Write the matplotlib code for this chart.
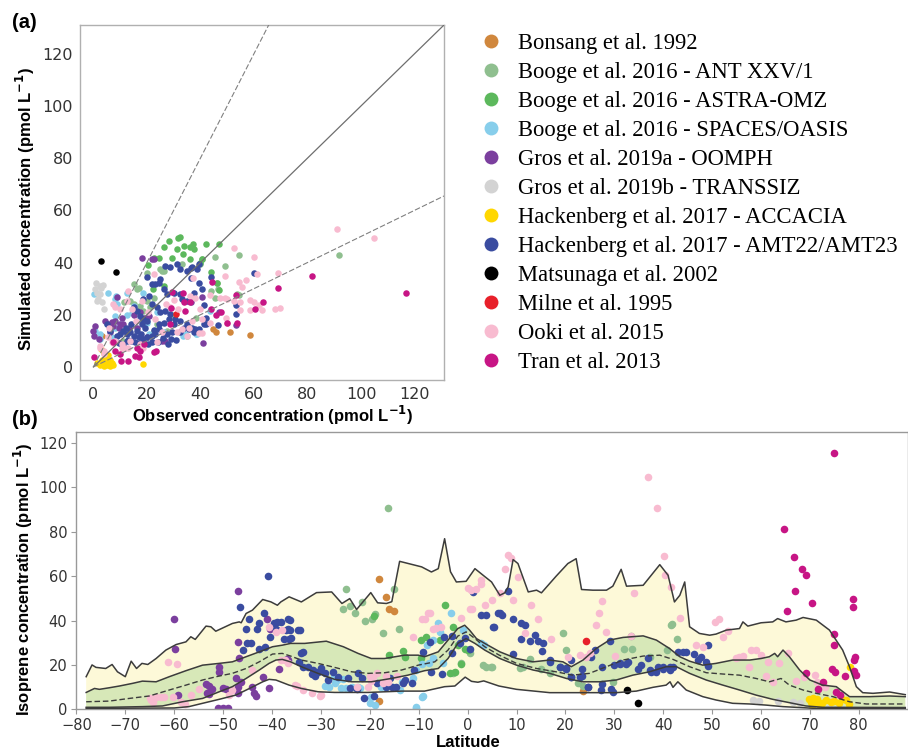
import matplotlib
matplotlib.use("Agg")
import matplotlib.pyplot as plt
from matplotlib.lines import Line2D
import numpy as np

# ---------------- legend / series ----------------
labels = ["Bonsang et al. 1992",
          "Booge et al. 2016 - ANT XXV/1",
          "Booge et al. 2016 - ASTRA-OMZ",
          "Booge et al. 2016 - SPACES/OASIS",
          "Gros et al. 2019a - OOMPH",
          "Gros et al. 2019b - TRANSSIZ",
          "Hackenberg et al. 2017 - ACCACIA",
          "Hackenberg et al. 2017 - AMT22/AMT23",
          "Matsunaga et al. 2002",
          "Milne et al. 1995",
          "Ooki et al. 2015",
          "Tran et al. 2013"]
colors = ["#d0873d", "#8fbf8f", "#5cb85c", "#87ceeb", "#7b3f9e", "#d3d3d3",
          "#ffd700", "#3a4ca0", "#000000", "#e8202a", "#f8bbd0", "#c71585"]

# ---------------- panel (a): observed vs simulated ----------------
bonsang_obs = [58.7, 50.9, 45.9, 44.7, 3.1, 7.5]
bonsang_sim = [12.2, 13.4, 13.5, 14.7, 11.9, 9.7]

ant_obs = [91.8, 54.3, 45.3, 49.1, 46.2, 46.6, 43.9, 45.6, 40.6, 39.9, 54.3, 38.4, 33.1, 25.0, 20.0,
           25.7, 16.9, 15.0, 13.7, 15.0, 20.0, 21.2, 18.7, 23.7, 22.5, 21.2, 27.5, 11.2, 11.3, 17.5,
           22.5, 16.3, 53.7, 26.2, 35.0, 30.0]
ant_sim = [42.7, 42.7, 42.1, 38.7, 32.0, 29.7, 29.1, 26.4, 41.5, 39.3, 27.7, 18.6, 39.4, 37.5, 35.9,
           36.8, 30.4, 31.7, 25.3, 24.0, 25.3, 22.8, 21.5, 16.4, 13.8, 11.3, 13.8, 10.0, 24.9, 23.4,
           26.6, 30.0, 27.9, 36.8, 12.0, 20.0]

astra_obs = [37.2, 42.2, 46.8, 37.7, 36.2, 28.1, 31.8, 32.5, 26.2, 24.4, 22.5, 31.2, 33.7, 36.2,
             40.6, 39.8, 29.4, 33.5, 22.3, 26.3, 46.3, 46.9, 20.5, 44.0]
astra_sim = [47.0, 47.0, 47.0, 45.1, 41.5, 48.3, 49.3, 49.6, 45.8, 41.9, 41.9, 45.1, 46.4, 45.8,
             41.5, 39.7, 41.9, 43.2, 30.0, 31.1, 32.3, 29.5, 39.2, 36.5]

spaces_obs = [0.3, 5.6, 8.5, 8.1, 12.5, 18.7, 8.8, 12.5, 14.4, 10.0, 8.1, 5.0, 0.6, 2.5, 6.9, 20.0,
              20.6, 23.7, 34.3, 26.2, 38.4, 43.4, 8.2, 15.3, 2.5, 38.8, 33.5, 17.0]
spaces_sim = [28.1, 28.5, 27.2, 26.0, 28.5, 28.5, 24.0, 20.0, 20.5, 16.4, 15.1, 16.4, 13.8, 12.6,
              11.3, 17.0, 12.6, 20.9, 12.6, 13.2, 12.5, 21.4, 19.6, 23.4, 10.6, 12.6, 11.7, 18.0]

oomph_obs = [18.1, 21.9, 22.8, 0.6, 0.0, 0.3, 4.4, 5.6, 6.9, 8.1, 7.5, 10.0, 15.0, 17.5, 10.6, 11.2,
             25.6, 26.9, 40.6, 40.9, 53.4, 36.4, 9.0, 13.2, 16.3, 6.3, 2.0, 18.8, 20.7, 20.0, 46.9, 9.4]
oomph_sim = [41.9, 41.3, 41.3, 15.7, 13.8, 11.9, 17.7, 16.4, 17.4, 17.7, 15.7, 16.4, 20.0, 20.9,
             18.9, 16.4, 10.0, 10.0, 26.9, 9.0, 15.9, 24.9, 26.8, 15.1, 15.1, 13.2, 10.6, 18.9, 19.6,
             11.3, 21.1, 15.1]

transsiz_obs = [1.0, 2.3, 0.6, 2.8, 1.3, 2.5, 1.9, 3.1, 4.0, 1.5, 3.5]
transsiz_sim = [32.3, 31.1, 29.8, 30.4, 28.5, 27.9, 26.0, 24.7, 22.1, 25.2, 31.5]

accacia_obs = [2.5, 3.8, 5.0, 6.3, 3.1, 4.4, 5.6, 6.3, 3.8, 6.9, 5.0, 2.8, 18.7, 4.0, 7.5, 1.5]
accacia_sim = [0.8, 0.4, 0.6, 0.4, 2.8, 3.4, 4.7, 2.8, 1.7, 1.7, 2.2, 6.8, 1.1, 5.3, 0.8, 1.5]

amt_obs = [20.0, 21.9, 24.4, 26.9, 28.7, 31.2, 32.5, 35.0, 36.8, 26.2, 30.0, 32.2, 33.1, 35.0, 37.5,
           18.7, 20.6, 21.9, 23.7, 25.0, 26.9, 28.7, 30.6, 32.5, 35.0, 36.8, 15.0, 16.2, 17.5, 18.7,
           20.0, 18.1, 19.4, 16.2, 13.7, 12.5, 10.0, 11.2, 8.8, 6.3, 5.0, 15.0, 16.9, 18.7, 20.0,
           21.9, 23.1, 24.4, 26.2, 28.1, 30.0, 32.5, 33.7, 35.6, 37.5, 27.5, 29.3, 23.1, 25.0, 27.5,
           12.5, 59.9, 43.9, 40.6, 39.3, 53.1, 53.4, 46.6, 42.2, 41.4, 42.2, 38.1, 39.3, 41.2, 36.4,
           38.9, 39.3, 36.4, 29.0, 31.0, 22.0, 14.0, 17.0, 9.5, 11.0, 13.0, 15.5, 19.0, 24.0, 26.0,
           28.0, 20.5, 17.8, 14.0, 12.0, 22.5, 24.5]
amt_sim = [34.3, 31.7, 32.3, 38.7, 38.1, 39.4, 37.5, 36.8, 38.4, 29.8, 28.5, 27.9, 26.0, 25.3, 28.5,
           26.0, 27.2, 24.0, 22.8, 20.9, 21.5, 20.2, 18.3, 17.7, 16.4, 15.1, 22.8, 21.5, 19.6, 18.3,
           17.7, 16.4, 15.1, 13.8, 13.2, 12.6, 12.6, 13.8, 11.9, 13.8, 16.4, 11.9, 11.3, 10.6, 11.3,
           11.9, 12.6, 16.4, 17.0, 18.3, 16.4, 13.2, 15.1, 14.5, 13.2, 12.6, 13.2, 31.7, 33.6, 27.9,
           10.0, 35.9, 34.6, 30.0, 32.3, 23.6, 20.1, 16.2, 18.9, 16.3, 16.3, 14.4, 14.7, 23.9, 38.0,
           37.4, 39.3, 34.2, 10.6, 10.4, 9.5, 9.8, 9.2, 9.0, 8.5, 10.5, 9.5, 9.0, 9.5, 11.0,
           8.8, 8.8, 12.5, 16.5, 15.0, 14.0, 14.5]

matsunaga_obs = [2.8, 8.5]
matsunaga_sim = [40.7, 36.4]

milne_obs = [31.0]
milne_sim = [20.2]

ooki_obs = [91.1, 104.9, 52.4, 59.9, 69.0, 61.2, 49.0, 54.3, 57.2, 55.6, 47.4, 49.0, 49.9, 52.4, 54.9,
            58.4, 59.9, 61.8, 63.0, 58.4, 54.7, 68.0, 69.7, 49.7, 49.9, 43.7, 40.6, 39.3, 37.4, 38.1,
            43.7, 13.1, 12.5, 10.0, 7.5, 5.6, 6.9, 8.1, 10.6, 11.9, 13.1, 2.5, 3.8, 17.5, 18.7, 23.7,
            28.7, 31.8, 36.2, 40.0, 40.6, 36.9, 35.6, 33.1, 31.3, 35.0, 25.6, 23.1, 22.5, 18.1, 14.4,
            8.2, 5.7, 7.5, 10.7, 13.8, 3.8, 2.5, 20.5, 16.0, 27.0, 30.0]
ooki_sim = [53.0, 49.3, 45.4, 42.2, 35.9, 35.7, 34.8, 32.7, 33.2, 30.7, 26.5, 26.5, 25.9, 25.3, 24.9,
            25.5, 24.9, 23.6, 21.8, 21.8, 21.8, 22.1, 22.7, 18.9, 17.0, 16.9, 13.1, 13.1, 34.2, 26.5,
            27.4, 29.2, 25.3, 22.1, 24.0, 11.3, 9.4, 10.0, 8.7, 7.4, 7.4, 7.4, 6.2, 8.7, 7.4, 9.4,
            22.8, 22.1, 27.2, 22.1, 18.3, 17.7, 15.1, 14.5, 13.2, 11.9, 13.2, 18.3, 35.5, 25.3, 22.1,
            22.8, 15.1, 9.3, 7.4, 9.9, 4.9, 8.1, 21.0, 17.5, 24.0, 25.5]

tran_obs = [116.7, 81.5, 68.9, 63.4, 60.5, 53.4, 47.8, 45.9, 49.9, 44.3, 53.7, 44.0, 33.5, 29.4, 34.0,
            29.0, 18.8, 16.3, 15.7, 12.8, 10.4, 22.5, 23.5, 17.5, 7.9, 0.2, 7.5, 10.0, 17.0, 28.7,
            34.3, 36.2]
tran_sim = [28.3, 34.8, 30.1, 24.9, 22.3, 27.6, 21.0, 20.0, 16.7, 32.7, 17.0, 22.1, 28.3, 28.8, 24.7,
            22.4, 8.7, 7.4, 4.2, 2.1, 2.3, 5.8, 6.2, 6.2, 6.2, 3.7, 9.4, 4.9, 3.8, 16.4,
            21.5, 24.7]

# ---------------- panel (b): latitude vs concentration ----------------
bonsang_lat = [-18.1, -16.6, -16.1, -15.1, -18.1, 23.6]
bonsang_val = [58.6, 50.4, 45.4, 44.4, 3.7, 8.4]

ant_lat = [-16.3, -24.9, -24.1, -25.4, -23.1, -21.6, -20.9, -19.5, -19.0, -17.3, -15.1, -14.1, 3.8, 4.7,
           3.2, 4.9, -1.3, 0.4, -3.0, 12.7, 15.1, 16.8, 19.5, 20.2, 41.7, 42.8, 40.8, 22.6, 23.6, 29.7,
           10.7, 11.3, 33.5, 33.7, 31.9, 37.2, 41.6]
ant_val = [90.9, 54.4, 46.5, 45.4, 43.5, 48.4, 39.9, 40.5, 42.9, 34.2, 54.4, 36.4, 18.9, 18.9,
           19.9, 19.2, 20.7, 25.2, 16.5, 22.5, 18.0, 16.2, 34.2, 26.7, 38.4, 31.5, 26.7, 11.7, 10.5, 12.4,
           18.4, 18.9, 33.0, 27.4, 27.4, 23.4, 37.9]

astra_lat = [-19.1, -13.2, -12.9, -16.1, -9.6, -9.6, -8.6, -5.7, -4.7, -3.0, 0.1, -2.6, -1.3, -2.0,
             -3.6, -0.6]
astra_val = [42.0, 26.4, 23.7, 24.4, 31.2, 22.9, 32.7, 31.2, 46.9, 37.2, 26.7, 16.6, 20.4, 28.9,
             16.2, 27.4]

spaces_lat = [-29.2, -27.2, -25.8, -23.7, -22.0, -20.0, -19.0, -15.2, -13.9, -10.6, -9.2, -8.4, -7.0,
              -6.0, -5.7, -3.3, -27.3, -26.8, -25.4, -24.8, -22.4, -19.7, -17.8, -16.6, -13.5, -11.1,
              -10.5, -9.4, -10.5, -9.4, -7.9, -7.1, -5.0, 2.8, 3.3, -0.9, -28.4]
spaces_val = [10.5, 12.0, 9.4, 9.9, 9.4, 2.7, 1.9, 9.9, 8.7, 0.4, 6.0, 28.9, 31.2,
              38.7, 34.9, 43.2, 14.7, 13.2, 13.5, 9.4, 9.9, 5.7, 9.9, 10.2, 12.4, 13.9,
              0.9, 5.7, 17.7, 20.4, 20.7, 23.0, 20.7, 29.7, 28.8, 35.7, 10.0]

oomph_lat = [-60.0, -59.9, -59.2, -53.4, -53.2, -52.2, -50.8, -50.8, -50.1, -49.4, -51.0, -50.0, -48.9,
             -47.4, -47.0, -47.0, -46.9, -47.0, -46.7, -46.3, -44.0, -43.6, -43.3, -41.9, -40.6,
             -40.5, -41.0, -38.5, -36.8, -52.8, -52.8, -37.0]
oomph_val = [40.9, 27.4, 6.4, 11.4, 7.2, 9.0, 18.9, 16.9, 9.4, 9.0, 0.5, 0.5, 0.5,
             13.9, 10.2, 7.2, 53.4, 30.4, 23.2, 12.4, 10.2, 7.2, 6.0, 14.7, 9.4,
             36.0, 40.9, 18.0, 22.2, 10.6, 6.7, 22.5]

transsiz_lat = [58.4, 59.5, 63.5, 67.9, 66.5, 70.5, 72.0, 74.0, 76.0]
transsiz_val = [4.2, 3.8, 3.9, 2.7, 3.2, 1.0, 1.0, 0.8, 1.0]

accacia_lat = [69.8, 70.2, 70.6, 71.0, 71.4, 70.4, 71.8, 73.3, 74.3, 74.9, 75.9, 77.4, 78.1, 72.5,
               76.5, 77.9]
accacia_val = [4.5, 3.2, 5.0, 3.8, 4.6, 2.0, 2.6, 4.2, 3.2, 3.6, 2.8, 4.0, 18.9, 3.0, 4.5, 2.2]

amt_lat = [-40.8, -46.5, -44.7, -45.3, -45.2, -44.3, -45.9, -42.6, -43.0, -41.7, -39.5, -38.9, -38.2,
           -39.2, -40.4, -37.5, -36.7, -42.7, -41.4, -36.4, -34.6, -36.2, -37.1, -34.1, -34.5, -33.6,
           -32.6, -31.6, -30.6, -29.9, -29.2, -31.9, -31.2, -28.5, -27.5, -26.5, -24.4, -22.4, -24.1,
           -22.6, -21.5, -21.2, -19.1, -18.6, -16.7, -15.9, -15.4, -14.7, -13.2, -12.8, -11.3, -11.0,
           -9.1, -7.7, -7.5, -5.3, -4.8, -3.2, -3.1, -36.7, -36.3, -34.3, -36.6, -33.6,
           1.1, 2.8, 3.8, 5.2, 6.2, -1.5, -0.5, 0.5,
           8.3, 6.6, 7.1, 9.3, 10.9, 11.7, 10.9, 12.7, 13.7, 14.4, 15.4, 15.3, 9.3, 16.8, 18.8, 20.2,
           21.2, 23.3, 23.4, 21.2, 24.6, 25.3, 26.0, 27.4, 29.1, 29.4, 27.4, 31.1, 32.3, 32.8, 34.8,
           35.5, 36.9, 37.6, 38.9, 39.9, 41.3, 43.0, 44.0, 44.7, 46.4, 47.1, 49.1, 5.5,
           48.8, 49.2, 47.8, 30.0, 31.2, 37.2, 38.6, 40.0, 41.3, 42.0, 16.8, 18.8, 20.2, 27.3, 29.7,
           21.2, 22.9, 24.6]
amt_val = [60.0, 46.2, 40.8, 36.4, 30.1, 30.1, 26.7, 39.0, 36.1, 43.6, 38.7, 39.4, 39.4,
           36.4, 32.7, 31.9, 36.0, 27.4, 28.2, 40.2, 35.6, 32.1, 35.7, 25.5, 21.4, 19.2,
           19.2, 17.7, 16.9, 18.7, 16.2, 15.7, 15.0, 13.2, 16.9, 14.7, 13.9, 16.2, 9.4,
           9.1, 13.9, 4.9, 6.1, 11.9, 9.9, 13.9, 10.2, 10.2, 11.9, 13.2, 11.7, 17.9,
           25.9, 30.4, 16.9, 15.7, 32.7, 25.2, 33.1, 40.5, 35.7, 35.7, 31.5, 25.9,
           52.9, 42.4, 42.4, 36.9, 43.5, 30.0, 32.0, 27.0,
           53.4, 43.5, 42.4, 40.9, 39.0, 37.9, 31.9, 30.9, 33.4, 30.9, 29.7, 26.4, 24.9, 22.2, 18.9, 18.0,
           22.2, 18.0, 15.0, 14.4, 9.9, 23.7, 26.7, 19.2, 30.9, 9.1, 11.4, 20.7, 20.4, 21.4, 18.0,
           19.9, 22.9, 16.9, 18.9, 18.9, 17.7, 25.9, 25.9, 25.9, 24.9, 22.2, 28.9, 37.2,
           21.4, 19.5, 23.4, 19.8, 20.5, 17.7, 16.9, 18.0, 19.2, 19.2, 21.4, 19.2, 18.4, 8.5, 7.9,
           14.7, 14.4, 10.2]

matsunaga_lat = [32.6, 34.8]
matsunaga_val = [8.7, 3.0]

milne_lat = [24.3]
milne_val = [30.9]

ooki_lat = [-61.2, -59.4, -64.8, -63.7, -62.7, -62.0, -64.4, -65.0, -60.3, -58.6, -57.7, -56.6, -54.9,
            -48.7, -48.1, -44.0, -40.7, -39.2, -37.9, -38.2, -36.8, -37.4, -34.8, -33.6, -31.9, -30.0,
            -35.3, -30.2, -22.7, -20.3, -19.8, -19.3, -17.3, -16.3, -14.5, -20.0, -18.6, -16.6, -11.1,
            -9.4, -8.1, -7.1, -5.5, -8.8, -7.7, -6.4, -1.4, 0.0, 2.8, 2.8, 3.5, 5.0, 0.8, 0.6,
            8.3, 8.8, 7.6, 10.3, 36.9, 38.7, 40.2, 40.4, 41.5, 43.4, 13.0, 14.4, 9.3, 17.1, 6.6, 34.0,
            27.4, 26.8, 26.3, 28.4, 33.5, 30.1, 11.7, 0.4, 22.9, 1.8, 50.5, 51.5, 53.2, 52.2, 48.1,
            58.0, 59.0, 60.0, 54.8, 55.6, 56.3, 61.4, 63.7, 65.5, 57.5, 61.1, 62.4, 67.2, 68.8, 71.0,
            71.4, 73.0, 46.8, 24.3, 25.0, 20.5]
ooki_val = [21.4, 20.4, 4.2, 5.7, 5.7, 5.7, 3.4, 4.9, 5.7, 3.4, 2.4, 6.4, 9.0,
            6.4, 8.7, 17.7, 37.2, 34.9, 35.7, 22.2, 20.7, 22.2, 10.5, 8.7, 7.2, 6.4,
            10.9, 6.1, 10.2, 10.2, 12.9, 14.7, 11.7, 12.4, 15.0, 15.0, 16.2, 15.0, 32.7,
            40.6, 43.5, 36.0, 37.2, 40.9, 43.5, 36.7, 41.2, 54.9, 58.2, 56.4, 47.2, 49.2, 45.4, 53.7,
            69.4, 68.4, 63.4, 59.7, 104.7, 90.7, 69.0, 60.4, 55.2, 41.2, 46.9, 40.5, 49.2, 31.5, 52.6, 52.5,
            48.9, 43.5, 38.0, 35.0, 33.0, 24.0, 34.5, 45.4, 24.4, 54.4, 39.4, 40.5, 35.4, 32.7, 27.9,
            26.7, 26.7, 24.4, 23.2, 23.7, 24.0, 21.4, 20.7, 25.5, 18.9, 15.0, 12.4, 12.9, 14.4, 15.4,
            12.4, 10.2, 29.0, 23.6, 25.2, 23.7]

tran_lat = [75.0, 64.8, 66.7, 68.4, 69.2, 67.0, 70.4, 65.3, 78.9, 78.9, 75.0, 75.0, 79.3, 79.1, 74.6,
            75.2, 77.1, 79.1, 79.5, 69.2, 72.7, 71.6, 75.4, 76.1]
tran_val = [115.6, 81.1, 68.7, 63.1, 60.4, 53.4, 47.7, 44.2, 49.9, 45.9, 33.9, 28.9, 23.4, 22.2, 18.0,
            16.9, 15.0, 17.4, 15.4, 16.5, 12.4, 9.0, 7.9, 6.4]

# envelope curves of the model (max, 75th, median, 25th, min)
max_lat = [-78, -76.8, -76, -74, -72.7, -71.6, -70, -68.8, -67.7, -66.6, -65.4, -63.7, -61.7, -59.6,
           -57.6, -56.6, -55.7, -53.5, -52.5, -51.5, -48.1, -46.7, -46.3, -45.3, -44, -41.9, -40.2,
           -38.9, -38.2, -36.5, -34, -30.9, -27.8, -25.7, -24.1, -22.7, -19.8, -18.4, -16.6, -15.5,
           -13.9, -9.4, -7.4, -6, -4.7, -3.5, -2.3, -0.3, 1.5, 3.3, 4.9, 6.6, 7.6, 8.3, 9.3, 10.3,
           12.4, 14.1, 15.1, 18.1, 20.5, 22.2, 23.3, 25.6, 28.4, 29.7, 31.4, 32.5, 35.9, 39.3, 41,
           42.3, 43.4, 44.4, 45.4, 47.4, 49.5, 50.8, 52.9, 55.6, 56.3, 57.3, 60, 62.4, 63.4, 65.1,
           67.2, 68.6, 71.3, 74, 76.7, 78.1, 79.5, 80.8, 82.9, 86.3, 89.5]
max_val = [14.7, 20, 18.9, 18.4, 20.2, 16.9, 14.7, 21.7, 18.4, 20.7, 20.2, 22.9, 26.7, 29.2,
           30.4, 32.7, 31.5, 37.5, 37.2, 35.2, 38.7, 39.4, 39.0, 43.2, 44.7, 49.5, 48.4,
           46.9, 48.4, 50.7, 48.4, 52.6, 52.9, 47.7, 49.9, 45, 52.6, 48, 47.7, 48.5,
           66.7, 64.2, 61.9, 63.4, 76.9, 62, 57.4, 57.7, 63.4, 60.2, 57.4, 51.4, 52.5, 55.2, 67.5, 65.7,
           52.9, 53.7, 52.5, 60, 65.7, 67.9, 54, 53.7, 53.7, 55.5, 63.1, 55.5, 55.9, 65.2, 60.4,
           48.4, 51.4, 57.4, 37.2, 34.2, 33.4, 33.9, 35.7, 36.4, 39.4, 37.5, 39, 39.4, 40.9, 39.4,
           40.2, 41.4, 40.2, 35.7, 26.7, 19.2, 10.2, 7.5, 7.2, 7.8, 6.6]

p75_lat = [-78, -76.3, -75.3, -73.3, -71.2, -68.5, -66.5, -63.7, -61, -57.6, -54.2, -50.8, -48.1,
           -45.3, -42.6, -39.9, -37.9, -36.2, -33.3, -28.9, -25.4, -22.4, -19.7, -17, -12.9, -10.1,
           -8.8, -6, -4, -2, -0.6, 0.4, 1.8, 3.5, 6.6, 10, 13.4, 16.8, 19.5, 21.2, 23.6, 26.3, 29,
           31.8, 35.9, 38.6, 41.3, 43.4, 45.4, 48.1, 50.8, 54.2, 57.7, 60, 61.7, 62.8, 63.4, 64.5,
           65.8, 67.9, 70, 72.6, 75.4, 78.1, 82.2, 86.3, 89.5]
p75_val = [7.6, 9.4, 9, 9.7, 10.5, 11.7, 12.7, 12.4, 14.7, 17.4, 19.9, 20.7, 21.4,
           23.7, 25.9, 28.2, 28.9, 29.7, 29.7, 30.7, 28.2, 25.2, 22.9, 22.9, 24.4, 24.4,
           23.7, 25.9, 31.2, 36.4, 37.9, 35.7, 31.9, 29.7, 25.9, 22.9, 21.4, 22.2, 21.4, 19.2, 22.2,
           27.4, 31.2, 32.4, 33.1, 31.2, 27.4, 23.7, 21.7, 19.9, 20.7, 22.2, 22.2, 22.9, 23.7, 25.2,
           23.7, 26.7, 23.7, 17.7, 13.2, 10.9, 10.2, 5.7, 5.7, 6, 5.7]

med_lat = [-78, -73.3, -69.2, -65.1, -61, -57.6, -54.2, -50.8, -48.1, -45.3, -42.6, -39.9, -37.9,
           -36.2, -34, -30.6, -27.2, -23.7, -20.3, -16.9, -13.5, -10.1, -6.7, -4, -2, -0.3, 1.5, 3.5,
           6.4, 10, 14.1, 18.1, 21.5, 24.9, 28.4, 31.8, 35.9, 39.3, 42, 45.4, 48.8, 52.2, 55.6, 59,
           61.7, 64.1, 65.8, 68.6, 71.3, 74.7, 78.1, 81.5, 89.5]
med_val = [3.4, 3.7, 4.9, 6, 8.7, 10.9, 13.2, 15, 16.2, 18.4, 21.4, 24.9, 25.2,
           24, 22.2, 20.7, 18.9, 16.9, 16.2, 16.5, 17.7, 19.9, 21.4, 26.7, 33, 34.9, 31.9, 28.2,
           24.5, 20.7, 18.4, 16.9, 15.4, 16.2, 19.2, 22.2, 24, 24.4, 22.5, 19.2, 16.5, 15.9, 15.4, 13.9,
           12.4, 13.9, 10.9, 8.7, 7.2, 5.7, 3.4, 2.4, 2.4]

p25_lat = [-78, -73.3, -66.5, -62.4, -58.3, -54.2, -50.8, -48.1, -45.3, -42.6, -40.6, -39.2, -37.9,
           -36.2, -34, -30.6, -27.2, -23.7, -19.7, -15.6, -12.2, -8.8, -6, -4, -2, -0.3, 1.5, 3.5,
           6.6, 10, 13.4, 16.8, 20.2, 23.6, 27, 30.4, 33.8, 37.2, 40.6, 42.7, 45.4, 48.8, 52.2, 55.6,
           59, 62.4, 65.8, 69.2, 72.6, 89.5]
p25_val = [0.9, 0.9, 1.2, 1.5, 3.4, 4.9, 7.9, 10.2, 13.9, 17.7, 20.7, 22.2, 22.5,
           21.4, 19.2, 16.2, 13.5, 12.4, 12.4, 13.9, 15.4, 17.4, 18.4, 22.9, 29.7, 31.9, 29.7, 26.7,
           22.9, 19.9, 17.7, 16.2, 13.9, 12.4, 12.4, 13.2, 15.4, 16.9, 19.2, 19.2, 16.2, 13.2, 10.9, 8.7,
           6.4, 4.5, 3, 1.5, 0.9, 0.8]

min_lat = [-78, -60, -57, -54.2, -50.8, -47.4, -44.6, -41.9, -40.6, -39.2, -36.5, -34, -30.6, -27.2,
           -20.3, -13.5, -8.8, -4.7, -2.6, -0.5, 0.8, 2.1, 3.3, 6.4, 10, 16.8, 23.6, 30.4, 34.5, 37.9,
           40.6, 41.4, 42, 43, 44.7, 48.1, 50.8, 54.2, 57.7, 61, 64.5, 71.3, 89.5]
min_val = [0.4, 0.6, 1.2, 2.7, 4.5, 6.4, 9.4, 12.4, 13.5, 13.2, 10.9, 9.4, 7.9, 7.6,
           7.6, 8.2, 8.2, 10.2, 10.5, 14.5, 12.6, 12.2, 12.8, 10.5, 9, 7.5, 7.5, 7.5, 8.2, 9.9,
           10.9, 12.4, 9.9, 12.4, 8.7, 5.7, 4.2, 2.7, 2.4, 1.9, 1.2, 0.4, 0.4]

a_obs = [bonsang_obs, ant_obs, astra_obs, spaces_obs, oomph_obs, transsiz_obs, accacia_obs,
         amt_obs, matsunaga_obs, milne_obs, ooki_obs, tran_obs]
a_sim = [bonsang_sim, ant_sim, astra_sim, spaces_sim, oomph_sim, transsiz_sim, accacia_sim,
         amt_sim, matsunaga_sim, milne_sim, ooki_sim, tran_sim]
b_lat = [bonsang_lat, ant_lat, astra_lat, spaces_lat, oomph_lat, transsiz_lat, accacia_lat,
         amt_lat, matsunaga_lat, milne_lat, ooki_lat, tran_lat]
b_val = [bonsang_val, ant_val, astra_val, spaces_val, oomph_val, transsiz_val, accacia_val,
         amt_val, matsunaga_val, milne_val, ooki_val, tran_val]

# ---------------- figure ----------------
W, H = 908, 753
fig = plt.figure(figsize=(W / 100, H / 100), dpi=100)
sans = "Liberation Sans"
serif = "Liberation Serif"
tick_col = "#333333"

# panel (a)
axa = fig.add_axes([80 / W, 1 - 380 / H, 364 / W, 355 / H])
for xs, ys, c in zip(a_obs, a_sim, colors):
    axa.scatter(xs, ys, s=22, color=c, linewidths=0, zorder=2)
lx = np.array([0.0, 131.0])
axa.plot(lx, lx, color="#6e6e6e", lw=0.9, zorder=3)
axa.plot(lx, 2 * lx, color="#808080", lw=0.8, ls=(0, (5, 2)), zorder=3)
axa.plot(lx, 0.5 * lx, color="#808080", lw=0.8, ls=(0, (5, 2)), zorder=3)
axa.set_xlim(-5, 131)
axa.set_ylim(-5, 131)
axa.set_xticks(np.arange(0, 121, 20))
axa.set_yticks(np.arange(0, 121, 20))
axa.tick_params(length=0, pad=5, labelsize=11.5, colors=tick_col)
for sp in axa.spines.values():
    sp.set_color("#b0b0b0")
    sp.set_linewidth(1.0)
axa.set_xlabel("Observed concentration (pmol L$^{\\mathbf{-1}}$)", fontsize=12, fontweight="bold",
               family=sans)
axa.xaxis.set_label_coords(0.53, -0.068)
axa.set_ylabel("Simulated concentration (pmol L$^{\\mathbf{-1}}$)", fontsize=12, fontweight="bold",
               family=sans)
axa.yaxis.set_label_coords(-0.118, 0.482)

# legend
handles = [Line2D([], [], marker="o", ls="", ms=10, color=c, markeredgewidth=0) for c in colors]
fig.legend(handles, labels, loc="upper left", bbox_to_anchor=(480 / W, 1 - 33 / H),
           frameon=False, prop={"family": serif, "size": 16.3}, handlelength=1.0,
           handletextpad=0.7, labelspacing=0.355, borderpad=0, borderaxespad=0)

# panel (b)
axb = fig.add_axes([76.4 / W, 1 - 709.3 / H, 831.3 / W, 277.3 / H])
line_col = "#3c3c3c"
axb.fill(np.concatenate([max_lat, min_lat[::-1]]), np.concatenate([max_val, min_val[::-1]]),
         color="#fdf9d8", lw=0, zorder=1)
axb.fill(np.concatenate([p75_lat, p25_lat[::-1]]), np.concatenate([p75_val, p25_val[::-1]]),
         color="#d7e8b8", lw=0, zorder=1.5)
for xs, ys, c in zip(b_lat, b_val, colors):
    axb.scatter(xs, ys, s=30, color=c, linewidths=0, zorder=2)
axb.plot(max_lat, max_val, color=line_col, lw=1.1, zorder=3)
axb.plot(p75_lat, p75_val, color=line_col, lw=1.1, zorder=3)
axb.plot(p25_lat, p25_val, color=line_col, lw=1.1, zorder=3)
axb.plot(min_lat, min_val, color=line_col, lw=1.1, zorder=3)
axb.plot(med_lat, med_val, color=line_col, lw=1.0, ls=(0, (4, 2)), zorder=3)
axb.set_xlim(-80, 90)
axb.set_ylim(0, 125)
axb.set_xticks(np.arange(-80, 81, 10))
axb.set_yticks(np.arange(0, 121, 20))
axb.tick_params(length=3.5, width=0.8, pad=3, labelsize=10.5, colors=tick_col)
axb.tick_params(axis="both", color="#999999")
for sp in axb.spines.values():
    sp.set_color("#999999")
    sp.set_linewidth(1.0)
axb.set_xlabel("Latitude", fontsize=12, fontweight="bold", family=sans)
axb.xaxis.set_label_coords(0.471, -0.093)
axb.set_ylabel("Isoprene concentration (pmol L$^{\\mathbf{-1}}$)", fontsize=12, fontweight="bold",
               family=sans)
axb.yaxis.set_label_coords(-0.05, 0.47)

fig.text(12 / W, 1 - 22 / H, "(a)", fontsize=14.5, fontweight="bold", family=sans,
         ha="left", va="center")
fig.text(12 / W, 1 - 420 / H, "(b)", fontsize=14.5, fontweight="bold", family=sans,
         ha="left", va="center")

fig.savefig("out.png", dpi=100)
